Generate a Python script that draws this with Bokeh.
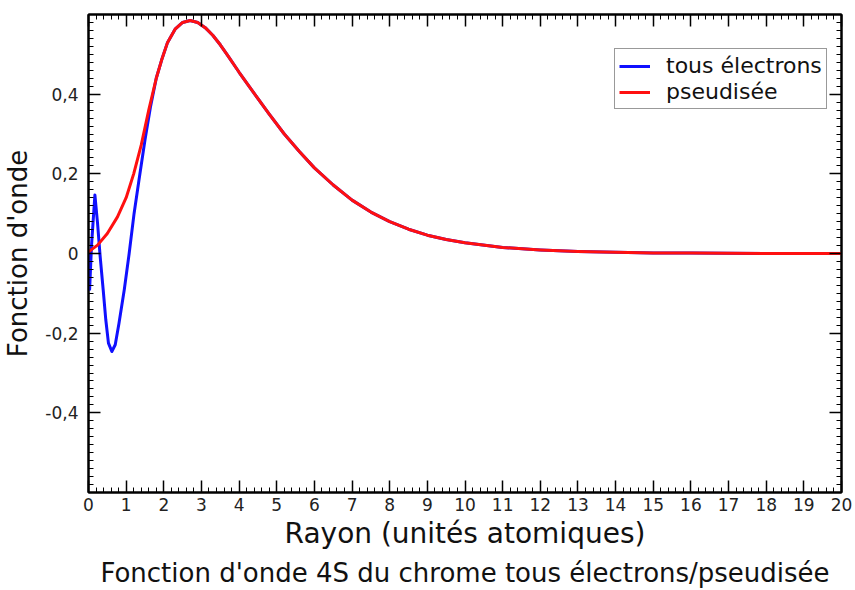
import numpy as np
from bokeh.plotting import figure
from bokeh.models import (ColumnDataSource, LinearAxis, FixedTicker, CustomJSTickFormatter,
                          Legend, LegendItem, Range1d, Title)
from bokeh.embed import file_html
from bokeh.resources import INLINE

# ---- data ----
red_x = [0.0, 0.24, 0.5, 0.77, 1.0, 1.2, 1.4, 1.6, 1.8, 1.94, 2.1, 2.3, 2.5, 2.7,
         2.9, 3.1, 3.3, 3.5, 3.7, 4.0, 4.4, 4.8, 5.2, 5.6, 6.0, 6.5, 7.0, 7.5, 8.0,
         8.5, 9.0, 9.5, 10.0, 11.0, 12.0, 13.0, 14.0, 15.0, 16.0, 18.0, 20.0]
red_y = [0.004, 0.021, 0.050, 0.092, 0.140, 0.200, 0.272, 0.360, 0.440, 0.485, 0.530,
         0.563, 0.580, 0.585, 0.580, 0.567, 0.548, 0.524, 0.497, 0.455, 0.402, 0.350,
         0.300, 0.256, 0.215, 0.172, 0.134, 0.104, 0.080, 0.061, 0.046, 0.035, 0.027,
         0.015, 0.009, 0.005, 0.003, 0.0015, 0.001, 0.0, 0.0]

blue_x_inner = [0.0, 0.03, 0.08, 0.17, 0.24, 0.31, 0.39, 0.46, 0.53, 0.62, 0.71, 0.81,
                0.95, 1.08, 1.21, 1.34, 1.5, 1.65]
blue_y_inner = [0.0, -0.09, 0.02, 0.147, 0.076, -0.008, -0.091, -0.167, -0.225, -0.246,
                -0.229, -0.175, -0.091, 0.0, 0.10, 0.184, 0.285, 0.37]

# outer part of the all-electron curve coincides with the pseudised one
blue_x = blue_x_inner + [x for x in red_x if x >= 1.8]
blue_y = blue_y_inner + [y for x, y in zip(red_x, red_y) if x >= 1.8]

x_ticks = list(range(0, 21))
y_ticks = [-0.4, -0.2, 0.0, 0.2, 0.4]

series_labels = ["tous électrons", "pseudisée"]
x_title = "Rayon (unités atomiques)"
y_title = "Fonction d'onde"
caption = "Fonction d'onde 4S du chrome tous électrons/pseudisée"

FONT = "DejaVu Sans"

p = figure(width=855, height=590, output_backend="svg", toolbar_location=None,
           x_range=Range1d(0, 20), y_range=Range1d(-0.6, 0.6),
           x_axis_location=None, y_axis_location=None)
p.min_border_left = 87
p.min_border_right = 14
p.min_border_top = 14
p.min_border_bottom = 2
p.background_fill_color = "white"
p.border_fill_color = "white"
p.outline_line_color = "black"
p.outline_line_width = 2
p.xgrid.visible = False
p.ygrid.visible = False

x_minor = [round(v, 3) for v in np.arange(0, 20.0001, 0.2)]
y_minor = [round(v, 3) for v in np.arange(-0.6, 0.6001, 0.02)]

yfmt = CustomJSTickFormatter(code="""
    if (Math.abs(tick) < 1e-9) return '0';
    return tick.toFixed(1).replace('.', ',');
""")


def style_axis(ax, labels=True, title_size="26px"):
    ax.axis_line_color = "black"
    ax.axis_line_width = 2
    ax.major_tick_in = 12
    ax.major_tick_out = 0
    ax.minor_tick_in = 5
    ax.minor_tick_out = 0
    ax.major_tick_line_color = "black"
    ax.major_tick_line_width = 1.5
    ax.minor_tick_line_color = "black"
    ax.minor_tick_line_width = 1
    ax.major_label_text_font = FONT
    ax.major_label_text_color = "#222222"
    ax.major_label_text_font_size = "17px" if labels else "0px"
    ax.axis_label_text_font = FONT
    ax.axis_label_text_font_style = "normal"
    ax.axis_label_text_color = "#111111"
    ax.axis_label_text_font_size = title_size


xb = LinearAxis(ticker=FixedTicker(ticks=x_ticks, minor_ticks=x_minor), axis_label=x_title)
style_axis(xb, title_size="28px")
xb.major_label_standoff = 5
xb.axis_label_standoff = 3
p.add_layout(xb, "below")

xt = LinearAxis(ticker=FixedTicker(ticks=x_ticks, minor_ticks=x_minor))
style_axis(xt, labels=False)
xt.major_label_standoff = 0
p.add_layout(xt, "above")

yl = LinearAxis(ticker=FixedTicker(ticks=y_ticks, minor_ticks=y_minor),
                formatter=yfmt, axis_label=y_title)
style_axis(yl, title_size="26px")
yl.major_label_standoff = 10
yl.axis_label_standoff = 9
p.add_layout(yl, "left")

yr = LinearAxis(ticker=FixedTicker(ticks=y_ticks, minor_ticks=y_minor))
style_axis(yr, labels=False)
yr.major_label_standoff = 0
p.add_layout(yr, "right")

src_blue = ColumnDataSource(dict(x=blue_x, y=blue_y))
src_red = ColumnDataSource(dict(x=red_x, y=red_y))
r_blue = p.line("x", "y", source=src_blue, line_color="#1010ff", line_width=3, line_join="round")
r_red = p.line("x", "y", source=src_red, line_color="#ff1010", line_width=3, line_join="round")

legend = Legend(items=[LegendItem(label=series_labels[0], renderers=[r_blue]),
                       LegendItem(label=series_labels[1], renderers=[r_red])],
                location=(526, 383))
legend.border_line_color = "#333333"
legend.border_line_width = 1.5
legend.background_fill_color = "white"
legend.background_fill_alpha = 1
legend.label_text_font = FONT
legend.label_text_font_size = "22px"
legend.label_text_color = "#111111"
legend.glyph_width = 31
legend.glyph_height = 22
legend.label_height = 22
legend.label_standoff = 16
legend.spacing = 1
legend.padding = 4
legend.margin = 0
p.add_layout(legend, "center")

cap = Title(text=caption, align="center", text_font=FONT, text_font_size="26px",
            text_font_style="normal", text_color="#111111", standoff=6)
p.add_layout(cap, "below")

open("out.html", "w").write(file_html(p, INLINE))
